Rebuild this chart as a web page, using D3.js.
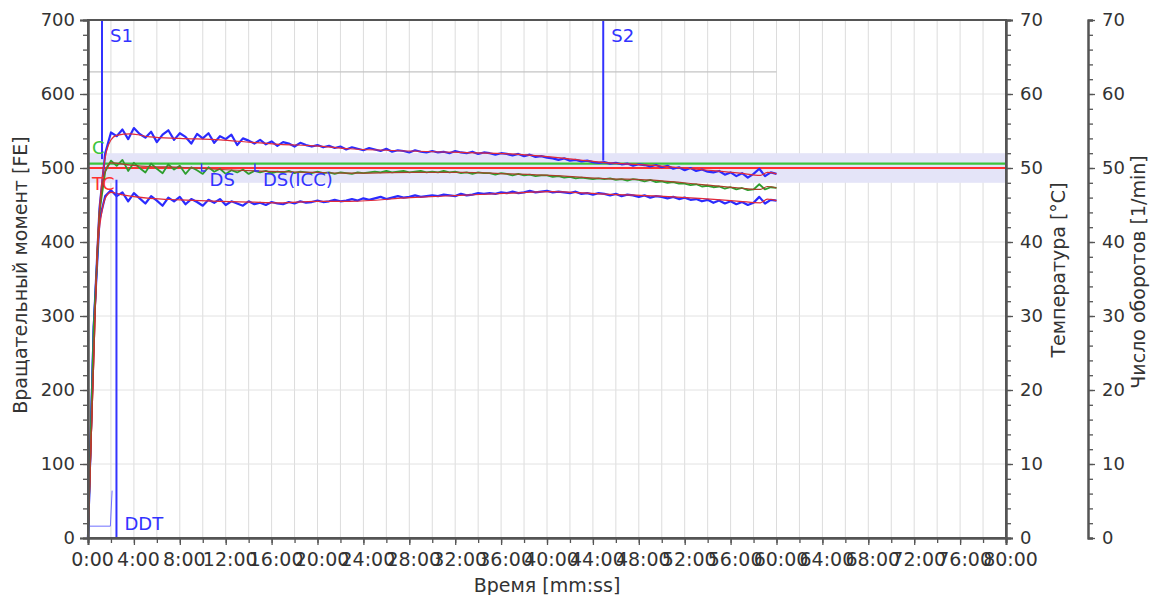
<!DOCTYPE html>
<html>
<head>
<meta charset="utf-8">
<script src="https://cdn.jsdelivr.net/npm/d3@7"></script>
<style>
  body { margin: 0; background: #fff; }
  svg text { font-family: "DejaVu Sans", sans-serif; }
</style>
</head>
<body>
<svg id="chart" width="1150" height="595"></svg>
<script>
// time in minutes, torque in FE
const sampleStep = 0.5;

// raw traces, one value every 0.5 min from 0:00 to 60:00
const upperRaw = [
  0, 285, 445, 520, 548, 543, 552, 539, 554, 546,
  541, 549, 535, 545, 551, 538, 547, 542, 533, 546,
  540, 547, 534, 543, 539, 545, 531, 540, 537, 533,
  538, 532, 536, 530, 535, 533, 529, 534, 531, 529,
  531, 528, 530, 527, 529, 525, 528, 526, 524, 527,
  525, 523, 526, 522, 524, 523, 521, 524, 522, 521,
  523, 521, 522, 520, 523, 521, 520, 522, 519, 521,
  520, 518, 520, 519, 517, 519, 516, 518, 515, 516,
  514, 513, 511, 513, 510, 511, 509, 510, 508, 507,
  508, 506, 507, 505, 506, 503, 505, 504, 502, 504,
  501, 503, 499, 501, 497, 500, 496, 498, 495, 494,
  496, 491, 494, 489, 493, 487, 492, 499, 489, 494,
  492
];
const lowerRaw = [
  0, 285, 430, 462, 470, 462, 467, 455, 466, 459,
  452, 462, 456, 449, 460, 455, 461, 451, 458, 454,
  449, 457, 453, 458, 450, 455, 452, 449, 455, 451,
  453, 450, 454, 452, 451, 454, 452, 455, 453, 454,
  456, 454, 455, 457, 455, 456, 458, 456, 459, 457,
  459, 461, 458, 460, 462, 460, 461, 463, 461, 462,
  463, 462, 464, 463, 462, 465, 463, 464, 466, 465,
  466, 465, 467, 466, 468, 466, 467, 469, 467, 468,
  469, 467, 468, 467, 466, 468, 465, 466, 464, 466,
  465, 463, 465, 462, 464, 463, 461, 463, 460, 462,
  461, 459, 461, 458, 460, 457, 458, 455, 457, 453,
  456, 452, 455, 451, 454, 450, 453, 461, 452, 457,
  456
];
const middleRaw = [
  0, 285, 440, 495, 510, 503, 511, 496, 507, 500,
  494, 506, 499, 493, 505, 498, 503, 492, 501, 497,
  492, 501, 495, 499, 492, 497, 494, 498, 492, 496,
  494, 496, 493, 495, 494, 496, 493, 495, 494, 493,
  495, 493, 494, 492, 494, 493, 492, 494, 493, 494,
  495, 494, 496, 494, 495, 496, 494, 495, 496, 494,
  495, 494, 496, 494, 495, 493, 494, 492, 494, 493,
  493, 491, 493, 492, 490, 492, 490, 491, 489, 490,
  490, 488, 489, 487, 488, 486, 487, 486, 485, 486,
  485, 486, 484, 485, 483, 485, 484, 482, 484, 481,
  482, 480, 481, 479, 479, 477, 478, 475, 476, 474,
  475, 472, 474, 471, 473, 470, 471, 478, 471, 474,
  473
];

// smoothed traces [min, FE]
const upperSmooth = [[0,0],[0.5,240],[0.8,390],[1.2,480],[1.6,522],[2,538],[2.5,544],[3.7,546],[5.4,542],[8,540],[11.5,538],[14,535],[16.7,532],[19.8,530],[22.8,526],[28,523],[32.4,521],[36.8,519],[40.3,515],[44.6,508],[49.8,503],[53.3,498],[56.8,493],[58.6,490],[59.2,494],[60,492]];
const lowerSmooth = [[0,0],[0.5,240],[0.8,380],[1.2,440],[1.6,462],[2,467],[2.9,464],[5.4,459],[8,457],[11.5,455],[14.1,454],[16.7,453],[19.8,455],[22.8,455],[28.1,460],[32.4,463],[36.8,466],[40.3,468],[44.6,465],[49.8,462],[53.3,459],[56.8,455],[58.6,453],[59.2,458],[60,456]];
const middleSmooth = [[0,0],[0.5,240],[0.8,385],[1.2,470],[1.6,500],[2,507],[3.7,504],[5.4,502],[8,501],[11.5,498],[16.7,495],[19.8,494],[22.8,493],[28.1,494],[32.4,494],[36.8,492],[40.3,490],[44.6,486],[49.8,483],[53.3,478],[56.8,473],[58.6,471],[59.2,475],[60,473]];

// rotation speed step [min, 1/min]
const speedSteps = [[0,1.6],[1.95,1.6],[2.1,6.4]];

// reference levels (FE)
const bandLow = 480, bandHigh = 520;
const greenLevel = 506, redLevel = 500;
const greyLevel = 630, greyEnd = 60;

// markers [label, min, from FE, to FE]
const markers = [["S1", 1.22, 512, 700], ["S2", 44.9, 510, 700], ["DDT", 2.48, 0, 484]];
const dsMarks = [["DS", 9.9], ["DS(ICC)", 14.55]];

const torqueTicks = d3.range(0, 701, 100);
const timeTicks = d3.range(0, 81, 4);
const sideTicks = d3.range(0, 71, 10);

const svg = d3.select("#chart");
const mLeft = 88, mRight = 1006, mTop = 20, mBottom = 538;

const x = d3.scaleLinear().domain([0, 80]).range([mLeft, mRight]);
const y = d3.scaleLinear().domain([0, 700]).range([mBottom, mTop]);
const yTemp = d3.scaleLinear().domain([0, 70]).range([mBottom, mTop]);
const yRpm = d3.scaleLinear().domain([0, 70]).range([mBottom, mTop]);

const fmtTime = m => `${Math.floor(m)}:${String(Math.round((m % 1) * 60)).padStart(2, "0")}`;

// grid
svg.append("g").selectAll("line")
  .data(d3.range(2, 80, 2))
  .join("line")
  .attr("x1", d => x(d)).attr("x2", d => x(d))
  .attr("y1", mTop).attr("y2", mBottom)
  .attr("stroke", "#dcdcdc").attr("stroke-width", 1);
svg.append("g").selectAll("line")
  .data(torqueTicks.slice(1, -1))
  .join("line")
  .attr("x1", mLeft).attr("x2", mRight)
  .attr("y1", d => y(d)).attr("y2", d => y(d))
  .attr("stroke", "#e2e2e2").attr("stroke-width", 1);

// tolerance band and levels
svg.append("rect")
  .attr("x", mLeft).attr("width", mRight - mLeft)
  .attr("y", y(bandHigh)).attr("height", y(bandLow) - y(bandHigh))
  .attr("fill", "#e4e4f8");
svg.append("line")
  .attr("x1", mLeft).attr("x2", x(greyEnd))
  .attr("y1", y(greyLevel)).attr("y2", y(greyLevel))
  .attr("stroke", "#c4c4c4").attr("stroke-width", 1.2);
svg.append("line")
  .attr("x1", mLeft).attr("x2", mRight)
  .attr("y1", y(greenLevel)).attr("y2", y(greenLevel))
  .attr("stroke", "#3cc43c").attr("stroke-width", 2.2);
svg.append("line")
  .attr("x1", mLeft).attr("x2", mRight)
  .attr("y1", y(redLevel)).attr("y2", y(redLevel))
  .attr("stroke", "#ff3030").attr("stroke-width", 2);

// traces
const rawLine = d3.line().x((d, i) => x(i * sampleStep)).y(d => y(d));
const smoothLine = d3.line().x(d => x(d[0])).y(d => y(d[1])).curve(d3.curveMonotoneX);

svg.append("path").attr("d", rawLine(upperRaw))
  .attr("fill", "none").attr("stroke", "#2b2bff").attr("stroke-width", 2.2)
  .attr("stroke-linejoin", "round");
svg.append("path").attr("d", rawLine(lowerRaw))
  .attr("fill", "none").attr("stroke", "#2b2bff").attr("stroke-width", 2.2)
  .attr("stroke-linejoin", "round");
svg.append("path").attr("d", rawLine(middleRaw))
  .attr("fill", "none").attr("stroke", "#2e9e2e").attr("stroke-width", 1.8)
  .attr("stroke-linejoin", "round");

svg.append("path").attr("d", smoothLine(upperSmooth))
  .attr("fill", "none").attr("stroke", "#e02a3a").attr("stroke-width", 1.2);
svg.append("path").attr("d", smoothLine(lowerSmooth))
  .attr("fill", "none").attr("stroke", "#e02a3a").attr("stroke-width", 1.2);
svg.append("path").attr("d", smoothLine(middleSmooth))
  .attr("fill", "none").attr("stroke", "#a8402a").attr("stroke-width", 1.2);

svg.append("path")
  .attr("d", d3.line().x(d => x(d[0])).y(d => yRpm(d[1]))(speedSteps))
  .attr("fill", "none").attr("stroke", "#7070ff").attr("stroke-width", 1);

// vertical markers
markers.forEach(([name, t, v0, v1]) => {
  svg.append("line")
    .attr("x1", x(t)).attr("x2", x(t))
    .attr("y1", y(v0)).attr("y2", y(v1))
    .attr("stroke", "#3333ff").attr("stroke-width", 2);
});
svg.append("text").attr("x", x(1.22) + 8).attr("y", 42).text("S1")
  .attr("fill", "#3333ff").attr("font-size", 18);
svg.append("text").attr("x", x(44.9) + 8).attr("y", 42).text("S2")
  .attr("fill", "#3333ff").attr("font-size", 18);
svg.append("text").attr("x", x(2.48) + 8).attr("y", 530).text("DDT")
  .attr("fill", "#3333ff").attr("font-size", 18);

dsMarks.forEach(([name, t]) => {
  svg.append("path")
    .attr("d", `M${x(t)},${y(506)}V${y(496)}h4`)
    .attr("fill", "none").attr("stroke", "#3333ff").attr("stroke-width", 1.5);
  svg.append("text").attr("x", x(t) + 8).attr("y", 186).text(name)
    .attr("fill", "#3333ff").attr("font-size", 18);
});

svg.append("text").attr("x", 92).attr("y", 154).text("C")
  .attr("fill", "#3cc43c").attr("font-size", 18);
svg.append("text").attr("x", 92).attr("y", 190).text("TC")
  .attr("fill", "#ff3030").attr("font-size", 18);

// axes
function styleAxis(g, size = 18) {
  g.selectAll("path.domain").attr("stroke", "#555").attr("stroke-width", 2);
  g.selectAll(".tick line").attr("stroke", "#555").attr("stroke-width", 1.3);
  g.selectAll("text").attr("fill", "#333").attr("font-size", size)
    .attr("font-family", "DejaVu Sans, sans-serif");
}

// frame
svg.append("rect")
  .attr("x", mLeft).attr("y", mTop).attr("width", mRight - mLeft).attr("height", mBottom - mTop)
  .attr("fill", "none").attr("stroke", "#555").attr("stroke-width", 2);

svg.append("g").attr("transform", `translate(${mLeft},0)`)
  .call(d3.axisLeft(y).tickValues(d3.range(0, 701, 20)).tickSize(5).tickFormat(""))
  .call(styleAxis);
svg.append("g").attr("transform", `translate(${mLeft},0)`)
  .call(d3.axisLeft(y).tickValues(torqueTicks).tickSize(8).tickPadding(5))
  .call(styleAxis);

svg.append("g").attr("transform", `translate(0,${mBottom})`)
  .call(d3.axisBottom(x).tickValues(d3.range(0, 81, 2)).tickSize(5).tickFormat(""))
  .call(styleAxis);
svg.append("g").attr("transform", `translate(0,${mBottom})`)
  .call(d3.axisBottom(x).tickValues(timeTicks).tickSize(7).tickPadding(8).tickFormat(fmtTime))
  .call(styleAxis, 19)
  .call(g => g.selectAll(".tick text").attr("dx", 4));

svg.append("g").attr("transform", `translate(${mRight},0)`)
  .call(d3.axisRight(yTemp).tickValues(d3.range(0, 71, 2)).tickSize(5).tickFormat(""))
  .call(styleAxis);
svg.append("g").attr("transform", `translate(${mRight},0)`)
  .call(d3.axisRight(yTemp).tickValues(sideTicks).tickSize(7).tickPadding(7))
  .call(styleAxis);

svg.append("g").attr("transform", "translate(1088,0)")
  .call(d3.axisRight(yRpm).tickValues(d3.range(0, 71, 2)).tickSize(5).tickFormat("").tickSizeOuter(5))
  .call(styleAxis);
svg.append("g").attr("transform", "translate(1088,0)")
  .call(d3.axisRight(yRpm).tickValues(sideTicks).tickSize(7).tickPadding(7).tickSizeOuter(5))
  .call(styleAxis);

// axis titles
svg.append("text").attr("transform", "translate(27,275) rotate(-90)")
  .attr("text-anchor", "middle").attr("font-size", 19).attr("fill", "#333")
  .text("Вращательный момент [FE]");
svg.append("text").attr("transform", "translate(1065,270) rotate(-90)")
  .attr("text-anchor", "middle").attr("font-size", 19).attr("fill", "#333")
  .text("Температура [°C]");
svg.append("text").attr("transform", "translate(1145,272) rotate(-90)")
  .attr("text-anchor", "middle").attr("font-size", 19).attr("fill", "#333")
  .text("Число оборотов [1/min]");
svg.append("text").attr("x", 547).attr("y", 592)
  .attr("text-anchor", "middle").attr("font-size", 19).attr("fill", "#333")
  .text("Время [mm:ss]");
</script>
</body>
</html>
